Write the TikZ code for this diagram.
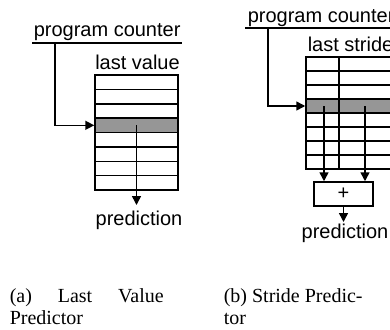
\documentclass[tikz,border=0pt]{standalone}
\usepackage{fontspec}
\setmainfont{Liberation Serif}
\newfontfamily\labelfont{Liberation Sans}
\usetikzlibrary{arrows.meta}
\definecolor{rowgray}{RGB}{150,150,150}
\begin{document}
\begin{tikzpicture}[x=1pt,y=-1pt,line width=1.5pt,
  lbl/.style={font=\labelfont\fontsize{20}{24}\selectfont, inner sep=0pt},
  arr/.style={-{Triangle[length=9pt,width=9pt]}},
  grayrow/.style={draw, fill=rowgray, inner sep=0pt, rectangle},
  tbl/.style={draw, inner sep=0pt, rectangle},
  captext/.style={font=\fontsize{20}{21.5}\selectfont, inner sep=0pt, align=left, anchor=north west}]
\useasboundingbox (0,0) rectangle (390,329);

% ---------- (a) Last value predictor ----------
\node[lbl, anchor=base west] (pcA) at (33,37) {program counter};
\coordinate (ulAl) at (32,43);
\coordinate (ulAr) at (182,43);
\draw (ulAl) -- (ulAr);
\coordinate (ulA) at (55,43);
\node[lbl, anchor=base] (lvA) at (137.5,69) {last value};
\node[tbl, minimum width=83pt, minimum height=115pt] (tabA) at (136.5,132.5) {};
\foreach \i in {1,...,7} \draw (95,{75+\i*14.375}) -- (178,{75+\i*14.375});
\node[grayrow, minimum width=83pt, minimum height=14.375pt] (rowA) at (136.5,125.31) {};
\draw[arr] (ulA) |- (rowA.west);
\node[lbl, anchor=base] (predA) at (139,225) {prediction};
\coordinate (tipA) at (136.5,205);
\draw[arr] (rowA.center) -- (tipA);
\node[captext, text width=154pt] (capA) at (9,288) {(a)\hfill Last\hfill Value\\Predictor};

% ---------- (b) Stride predictor ----------
\node[lbl, anchor=base west] (pcB) at (247,23) {program counter};
\coordinate (ulBl) at (245,28);
\coordinate (ulBr) at (400,28);
\draw (ulBl) -- (ulBr);
\coordinate (ulB) at (268,28);
\node[lbl, anchor=base west] (lsB) at (307,52) {last stride};
\node[tbl, minimum width=114pt, minimum height=112pt] (tabB) at (363,113) {};
\foreach \i in {1,...,7} \draw (306,{57+\i*14}) -- (420,{57+\i*14});
\node[grayrow, minimum width=114pt, minimum height=14pt] (rowB) at (363,106) {};
\draw (339,57) -- (339,169);
\draw[arr] (ulB) |- (rowB.west);
\node[tbl, lbl, minimum width=59pt, minimum height=24pt] (plusB) at (343.5,194) {+};
\coordinate (srcB1) at (324,106);
\coordinate (srcB2) at (365,106);
\draw[arr] (srcB1) -- (srcB1 |- plusB.north);
\draw[arr] (srcB2) -- (srcB2 |- plusB.north);
\node[lbl, anchor=base] (predB) at (345,238) {prediction};
\coordinate (tipB) at (343.5,222);
\draw[arr] (plusB.south) -- (tipB);
\node[captext] (capB) at (223,288) {(b) Stride Predic-\\tor};
\end{tikzpicture}
\end{document}
